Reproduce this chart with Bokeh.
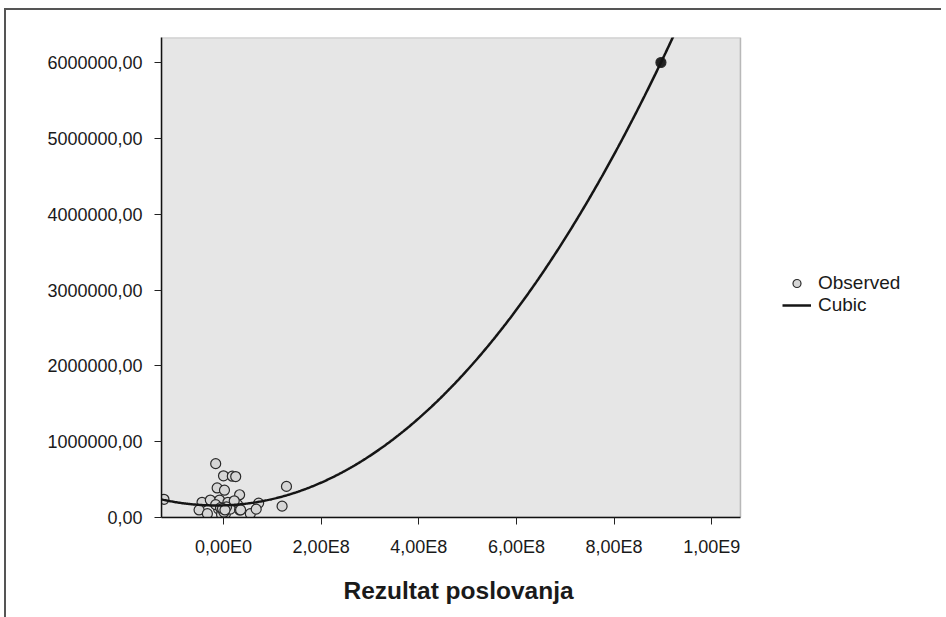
import numpy as np
from bokeh.plotting import figure
from bokeh.models import (ColumnDataSource, FixedTicker, Legend, LegendItem, Range1d,
                          BoxAnnotation, Title)
from bokeh.embed import file_html
from bokeh.resources import INLINE

# Observed values (x: Rezultat poslovanja, y: dependent)
obs_x = [-1.22e8, -0.16e8, 0.00e8, 0.18e8, 0.25e8, -0.13e8, 0.02e8, 0.33e8, 1.29e8, 1.20e8,
         -0.44e8, -0.27e8, -0.08e8, 0.09e8, 0.29e8, 0.72e8, -0.50e8, -0.33e8, -0.10e8, -0.03e8,
         0.04e8, 0.14e8, 0.33e8, 0.55e8, 0.67e8, -0.04e8, -0.16e8, -0.06e8, 0.06e8, 0.22e8,
         0.35e8, 0.00e8, 0.01e8, -0.02e8, 0.03e8, 8.96e8]
obs_y = [240000, 710000, 550000, 545000, 540000, 390000, 360000, 300000, 410000, 150000,
         200000, 230000, 230000, 200000, 170000, 190000, 100000, 50000, 110000, 80000,
         50000, 110000, 100000, 50000, 110000, 40000, 170000, 130000, 140000, 220000,
         100000, 90000, 70000, 120000, 100000, 6000000]

# Cubic fit coefficients b0..b3
cubic_coef = [160000.0, 1.86e-4, 6.43e-12, 7.1e-22]

x_ticks = [0, 200000000, 400000000, 600000000, 800000000, 1000000000]
x_tick_labels = ["0,00E0", "2,00E8", "4,00E8", "6,00E8", "8,00E8", "1,00E9"]
y_ticks = [0, 1000000, 2000000, 3000000, 4000000, 5000000, 6000000]
y_tick_labels = ["0,00", "1000000,00", "2000000,00", "3000000,00",
                 "4000000,00", "5000000,00", "6000000,00"]
x_title = "Rezultat poslovanja"

x_lo, x_hi = -1.27e8, 1.059e9
y_lo, y_hi = 0, 6.33e6

FONT = "Liberation Sans"

# plot area is 579 px wide; the canvas frame is extended to the right so that the
# legend (which sits outside the plot area) is not clipped
AREA_PX = 579
EXTRA_PX = 195
x_hi_canvas = x_hi + (x_hi - x_lo) * EXTRA_PX / AREA_PX

p = figure(frame_width=AREA_PX + EXTRA_PX, frame_height=480,
           output_backend="svg", toolbar_location=None,
           x_range=Range1d(x_lo, x_hi_canvas), y_range=Range1d(y_lo, y_hi),
           min_border_left=155, min_border_right=6,
           min_border_top=27, min_border_bottom=96)
p.margin = (8, 0, 0, 4)
p.styles = {"border-top": "2px solid #555555", "border-left": "2px solid #555555"}
p.background_fill_color = "white"
p.border_fill_color = "white"
p.outline_line_color = None
p.xgrid.visible = False
p.ygrid.visible = False

area = BoxAnnotation(left=x_lo, right=x_hi, fill_color="#e6e6e6", fill_alpha=1,
                     line_color="#333333", line_width=1.5, level="underlay")
p.add_layout(area)

for ax in (p.xaxis[0], p.yaxis[0]):
    ax.axis_line_color = "#111111"
    ax.axis_line_width = 1.5
    ax.major_tick_line_color = "#222222"
    ax.major_tick_in = 0
    ax.major_tick_out = 7
    ax.minor_tick_line_color = None
    ax.major_label_text_font = FONT
    ax.major_label_text_font_size = "18px"
    ax.major_label_text_color = "#1a1a1a"

p.xaxis.bounds = (x_lo, x_hi)
p.xaxis.ticker = FixedTicker(ticks=x_ticks)
p.xaxis.major_label_overrides = {int(t): l for t, l in zip(x_ticks, x_tick_labels)}
p.xaxis.major_label_standoff = 12

p.yaxis.ticker = FixedTicker(ticks=y_ticks)
p.yaxis.major_label_overrides = {int(t): l for t, l in zip(y_ticks, y_tick_labels)}
p.yaxis.major_label_standoff = 12

title = Title(text=x_title, align="left", offset=182, standoff=30,
              text_font=FONT, text_font_size="24.5px", text_font_style="bold",
              text_color="#1a1a1a")
p.add_layout(title, "below")

fills = ["#222222" if v > 5e6 else "#d6d6d6" for v in obs_y]
src = ColumnDataSource(dict(x=obs_x, y=obs_y, fill=fills))
sc = p.scatter("x", "y", source=src, size=10, marker="circle",
               fill_color="fill", line_color="#2a2a2a", line_width=1.2)

cx = np.linspace(x_lo, 1.0e9, 500)
cy = cubic_coef[0] + cubic_coef[1] * cx + cubic_coef[2] * cx ** 2 + cubic_coef[3] * cx ** 3
ln = p.line(cx, cy, line_color="#151515", line_width=2.5)

legend = Legend(items=[LegendItem(label="Observed", renderers=[sc], index=0),
                       LegendItem(label="Cubic", renderers=[ln])],
                location=(AREA_PX + 42, 201), orientation="vertical",
                border_line_alpha=0, background_fill_alpha=0,
                padding=0, spacing=0, margin=0,
                glyph_width=29, glyph_height=20, label_height=20,
                label_standoff=7, label_text_font=FONT,
                label_text_font_size="19px", label_text_color="#1a1a1a")
p.add_layout(legend, "center")

open("out.html", "w").write(file_html(p, INLINE))
